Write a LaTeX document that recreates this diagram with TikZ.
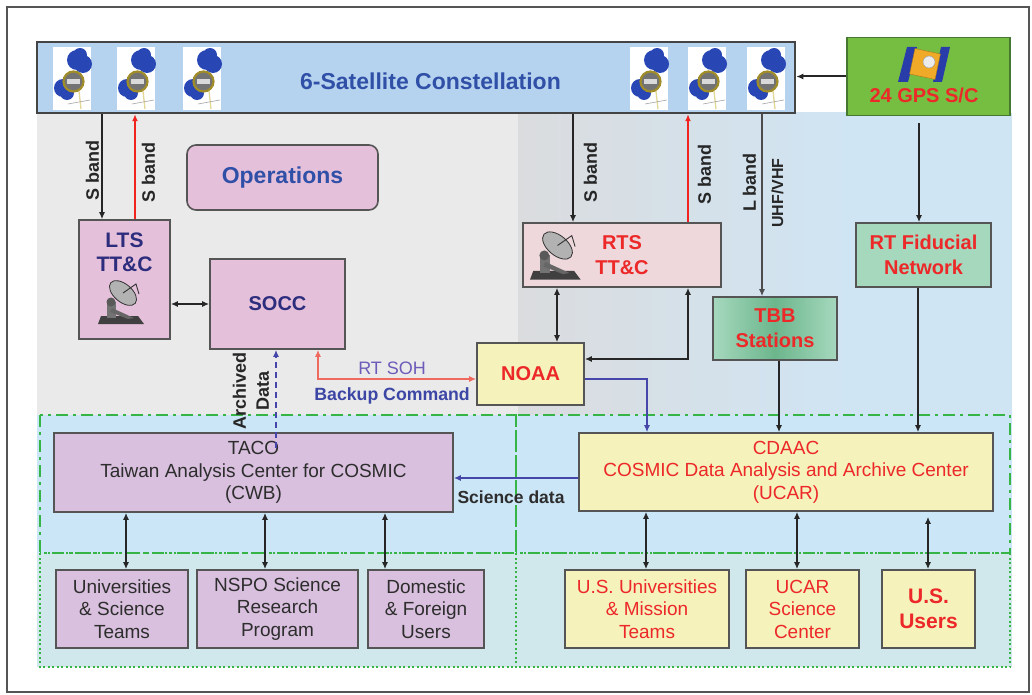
\documentclass[tikz,border=0pt]{standalone}
\usepackage{fontspec}
\setmainfont{Liberation Sans}
\usetikzlibrary{
    arrows.meta,
    positioning,
    calc
}

\definecolor{framegray}{RGB}{85,85,85}
\definecolor{constfill}{RGB}{181,211,238}
\definecolor{lgray}{RGB}{234,234,234}
\definecolor{mgray}{RGB}{219,220,222}
\definecolor{skyfill}{RGB}{207,229,244}
\definecolor{lowband}{RGB}{203,230,246}
\definecolor{botband}{RGB}{208,232,236}
\definecolor{pinkfill}{RGB}{229,192,218}
\definecolor{lilacfill}{RGB}{217,192,222}
\definecolor{rosefill}{RGB}{238,216,219}
\definecolor{creamfill}{RGB}{245,242,188}
\definecolor{mintfill}{RGB}{166,216,190}
\definecolor{mintdark}{RGB}{108,182,140}
\definecolor{gpsfill}{RGB}{118,190,66}
\definecolor{gpsline}{RGB}{70,120,50}
\definecolor{boxline}{RGB}{85,85,85}
\definecolor{navytxt}{RGB}{45,45,125}
\definecolor{bluetxt}{RGB}{48,80,168}
\definecolor{redtxt}{RGB}{236,40,40}
\definecolor{graytxt}{RGB}{45,45,45}
\definecolor{dashgreen}{RGB}{55,180,70}
\definecolor{upred}{RGB}{240,35,30}
\definecolor{sohred}{RGB}{240,105,95}
\definecolor{linkblue}{RGB}{70,70,170}
\definecolor{sohtxt}{RGB}{110,90,185}
\definecolor{cmdtxt}{RGB}{60,70,165}
\definecolor{satblue}{RGB}{40,70,180}
\definecolor{ringgold}{RGB}{160,140,40}
\definecolor{stickyellow}{RGB}{225,215,150}
\definecolor{panelblue}{RGB}{40,60,170}
\definecolor{gpsorange}{RGB}{240,170,40}

\tikzstyle{boxbase} = [draw=boxline, line width=1.6pt, inner sep=2pt, align=center]
\tikzstyle{pinkbox} = [boxbase, fill=pinkfill, text=navytxt, font=\fontsize{20}{24}\selectfont\bfseries]
\tikzstyle{lilacbox} = [boxbase, fill=lilacfill, text=graytxt, font=\fontsize{19}{22.5}\selectfont]
\tikzstyle{creambox} = [boxbase, fill=creamfill, text=redtxt, font=\fontsize{19}{22.5}\selectfont]
\tikzstyle{redbold} = [text=redtxt, font=\fontsize{20}{25}\selectfont\bfseries]
\tikzstyle{rosebox} = [boxbase, fill=rosefill, redbold]
\tikzstyle{mintbox} = [boxbase, fill=mintfill, redbold]
\tikzstyle{bandlabel} = [rotate=90, inner sep=0pt, align=center, text=black!85, font=\fontsize{18}{23}\selectfont\bfseries]
\tikzstyle{downlink} = [->, line width=1.3pt, draw=black!85]
\tikzstyle{uplink} = [->, line width=1.3pt, draw=upred]
\tikzstyle{duplex} = [<->, line width=1.5pt, draw=black!85]
\tikzstyle{userlink} = [<->, line width=2.2pt, draw=black!85]
\tikzstyle{datalink} = [->, line width=1.5pt, draw=linkblue]
\tikzstyle{sohlink} = [<->, line width=1.4pt, draw=sohred]
\tikzstyle{dashframe} = [draw=dashgreen, line width=2pt, dash pattern=on 12pt off 5pt on 3pt off 5pt]
\tikzstyle{dotframe} = [draw=dashgreen, line width=2pt, dash pattern=on 2pt off 2.5pt]

\begin{document}
\begin{tikzpicture}[x=1pt, y=-1pt, >={Latex[length=7pt,width=6pt]}]
    \useasboundingbox (0,0) rectangle (1032,695);
    \fill[white] (0,0) rectangle (1032,695);
    \draw[framegray, line width=2.5pt] (7,7) rectangle (1029,692);

    \fill[lgray] (37,113) rectangle (518,415);
    \shade[left color=mgray, right color=skyfill] (518,113) rectangle (860,415);
    \fill[skyfill] (860,113) rectangle (1012,415);
    \fill[lowband] (37,415) rectangle (1012,553);
    \fill[botband] (37,553) rectangle (1012,667);

    \draw[dotframe] (40,553) rectangle (516,667);
    \draw[dotframe] (516,553) rectangle (1010,667);
    \draw[dashframe] (40,415) rectangle (516,553);
    \draw[dashframe] (516,415) rectangle (1010,553);

    \node[boxbase, fill=constfill, draw=framegray!80!black, line width=2.5pt, minimum width=758pt, minimum height=71pt] (Const) at (416,77.5) {};
    \node[text=bluetxt, font=\fontsize{23}{26}\selectfont\bfseries] (ConstLbl) at (430.5,81) {6-Satellite Constellation};
    \node[boxbase, fill=gpsfill, draw=gpsline, minimum width=163pt, minimum height=78pt] (GPS) at (928.5,76.5) {};
    \node[redbold] (GPSLbl) at (924,95) {24 GPS S/C};

    \node[pinkbox, rounded corners=9pt, minimum width=191pt, minimum height=65pt, text=bluetxt, font=\fontsize{23}{26}\selectfont\bfseries] (Ops) at (282.5,177.5) {Operations};
    \node[pinkbox, minimum width=91pt, minimum height=119pt] (LTS) at (124.5,279.5) {};
    \node[text=navytxt, align=center, font=\fontsize{21}{24}\selectfont\bfseries] (LTSLbl) at (124.5,252) {LTS\\TT\&C};
    \node[pinkbox, minimum width=135pt, minimum height=90pt] (SOCC) at (277.5,304) {SOCC};

    \node[rosebox, minimum width=198pt, minimum height=64pt] (RTS) at (622,255) {RTS\\TT\&C};
    \node[boxbase, redbold, left color=mintfill, right color=mintfill, middle color=mintdark, minimum width=124pt, minimum height=63pt] (TBB) at (775,328.5) {TBB\\Stations};
    \node[mintbox, minimum width=135pt, minimum height=64pt] (RTF) at (923.5,255) {RT Fiducial\\Network};
    \node[creambox, redbold, minimum width=107pt, minimum height=62pt] (NOAA) at (530.5,374) {NOAA};

    \node[lilacbox, minimum width=399pt, minimum height=79pt] (TACO) at (253.5,472.5) {TACO\\Taiwan Analysis Center for COSMIC\\(CWB)};
    \node[creambox, minimum width=414pt, minimum height=78pt] (CDAAC) at (786,472) {CDAAC\\COSMIC Data Analysis and Archive Center\\(UCAR)};

    \node[lilacbox, minimum width=132pt, minimum height=78pt] (Univ) at (122,609) {Universities\\\& Science\\Teams};
    \node[lilacbox, minimum width=161pt, minimum height=78pt] (NSPO) at (277.5,609) {NSPO Science\\Research\\Program};
    \node[lilacbox, minimum width=116pt, minimum height=78pt] (Dom) at (426,609) {Domestic\\\& Foreign\\Users};
    \node[creambox, minimum width=164pt, minimum height=78pt] (USUniv) at (647,609) {U.S. Universities\\\& Mission\\Teams};
    \node[creambox, minimum width=113pt, minimum height=78pt] (UCARSci) at (802.5,609) {UCAR\\Science\\Center};
    \node[creambox, minimum width=93pt, minimum height=78pt, font=\fontsize{21}{25}\selectfont\bfseries] (USUsers) at (928.5,609) {U.S.\\Users};

    % satellites on the constellation bar
    \foreach \sx in {53,117,183,630,688,747}{
        \begin{scope}[shift={(\sx,47)}]
            \fill[white] (0,0) rectangle (38,63);
            \fill[satblue] (24,13) circle (10pt) (30,17) circle (9pt) (27,8) circle (7pt);
            \fill[satblue] (10,41) circle (9pt) (14,46) circle (7pt);
            \draw[stickyellow, line width=1.3pt] (26,44) -- (28,62);
            \draw[black!35, line width=0.6pt] (15,57) -- (37,53);
            \filldraw[fill=black!55, draw=ringgold, line width=2.2pt] (20.5,34.5) circle (10pt);
            \fill[black!15] (14,32) rectangle (27,37);
        \end{scope}
    }

    % gps spacecraft
    \fill[panelblue] (907,47) -- (917,47) -- (908,82) -- (898,82) -- cycle;
    \fill[panelblue] (941,47) -- (950,47) -- (942,82) -- (933,82) -- cycle;
    \filldraw[fill=gpsorange, draw=gpsorange!70!black, rotate around={-12:(925,64)}] (912,51) rectangle (938,77);
    \filldraw[fill=black!8, draw=black!40] (929,62) circle (6pt);

    % ground antennas
    \foreach \dx/\dy/\s in {98/278/1, 530/229/1.1}{
        \begin{scope}[shift={(\dx,\dy)}, scale=\s]
            \fill[black!75] (3,38) -- (40,38) -- (46,46) -- (0,46) -- cycle;
            \fill[black!55] (9,24) rectangle (18,40);
            \fill[black!60] (14,30) -- (36,40) -- (30,41) -- (12,34) -- cycle;
            \filldraw[fill=black!30, draw=black!80, line width=0.8pt, rotate around={-40:(25,15)}] (25,15) ellipse (16pt and 9pt);
            \draw[black!80, line width=0.9pt] (25,15) -- (38,6) -- (41,16);
            \fill[black!65] (13,24) circle (4.5pt);
        \end{scope}
    }

    \coordinate (LTSdn) at ([xshift=-22.5pt]LTS.north);
    \coordinate (LTSup) at ([xshift=10.5pt]LTS.north);
    \coordinate (RTSdn) at ([xshift=-49pt]RTS.north);
    \coordinate (RTSup) at ([xshift=66pt]RTS.north);
    \coordinate (TBBin) at ([xshift=-13pt]TBB.north);
    \coordinate (RTFin) at ([xshift=-4.5pt]RTF.north);

    \draw[downlink] (Const.south -| LTSdn) -- (LTSdn);
    \draw[uplink] (LTSup) -- (Const.south -| LTSup);
    \draw[downlink] (Const.south -| RTSdn) -- (RTSdn);
    \draw[uplink] (RTSup) -- (Const.south -| RTSup);
    \draw[downlink, line width=1.8pt, draw=black!70] (Const.south -| TBBin) -- (TBBin);
    \draw[downlink, line width=2pt] (GPS.west) -- (GPS.west -| Const.east);
    \draw[downlink, line width=1.8pt, shorten <=7pt] (RTFin |- GPS.south) -- (RTFin);

    \draw[duplex] (LTS.east |- SOCC.west) -- (SOCC.west);

    \coordinate (NOAAin) at ([xshift=26.5pt]NOAA.north);
    \coordinate (RTSout) at ([xshift=66pt]RTS.south);
    \coordinate (CDAACin) at ([xshift=-139pt]CDAAC.north);
    \coordinate (SOCCout) at ([xshift=40.5pt]SOCC.south);
    \draw[duplex, line width=1.8pt] (RTS.south -| NOAAin) -- (NOAAin);
    \draw[duplex, line width=1.8pt] (RTSout) |- ([yshift=15pt]NOAA.east);
    \draw[datalink] ([yshift=-5pt]NOAA.east) -| (CDAACin);
    \draw[sohlink] (SOCCout) |- ([yshift=-5pt]NOAA.west)
        node[pos=0.75, xshift=-5pt, above=4pt, inner sep=0pt, text=sohtxt, font=\fontsize{18}{20}\selectfont] {RT SOH}
        node[pos=0.75, xshift=-5pt, below=8pt, inner sep=0pt, text=cmdtxt, font=\fontsize{17.7}{20}\selectfont\bfseries] {Backup Command};

    \coordinate (ArchUp) at ([xshift=22.5pt]TACO.north);
    \draw[->, line width=1.4pt, draw=linkblue, dash pattern=on 6pt off 4pt] ([yshift=-16pt]ArchUp) -- (SOCC.south -| ArchUp);

    \coordinate (SciOut) at ([yshift=-6pt]CDAAC.west);
    \draw[datalink] (SciOut) -- (SciOut -| TACO.east)
        node[midway, xshift=-5pt, below=12pt, inner sep=0pt, text=graytxt, font=\fontsize{17.5}{20}\selectfont\bfseries] {Science data};

    \coordinate (TBBout) at ([xshift=4pt]TBB.south);
    \coordinate (RTFout) at ([xshift=-5.5pt]RTF.south);
    \draw[downlink, line width=1.8pt] (TBBout) -- (TBBout |- CDAAC.north);
    \draw[downlink, line width=1.8pt] (RTFout) -- (RTFout |- CDAAC.north);

    \foreach \usr/\dx in {Univ/4, NSPO/-12.5, Dom/-41}{
        \coordinate (UsrIn) at ([xshift=\dx pt]\usr.north);
        \draw[userlink] (UsrIn |- TACO.south) -- (UsrIn);
    }
    \foreach \usr/\dx/\gap in {USUniv/-1/0, UCARSci/-5.5/0, USUsers/-0.5/5}{
        \coordinate (UsrIn) at ([xshift=\dx pt]\usr.north);
        \draw[userlink, shorten <=\gap pt] (UsrIn |- CDAAC.south) -- (UsrIn);
    }

    \node[bandlabel] (SbLtsDn) at (92.5,170) {S band};
    \node[bandlabel] (SbLtsUp) at (148.5,172) {S band};
    \node[bandlabel] (SbRtsDn) at (590.5,172.5) {S band};
    \node[bandlabel] (SbRtsUp) at (704.5,174.5) {S band};
    \node[bandlabel] (Lband) at (749.5,182.5) {L band};
    \node[bandlabel, font=\fontsize{16}{18}\selectfont\bfseries] (Uhf) at (777.5,193) {UHF/VHF};
    \node[bandlabel] (ArchLbl) at (251,391) {Archived\\Data};
\end{tikzpicture}
\end{document}
